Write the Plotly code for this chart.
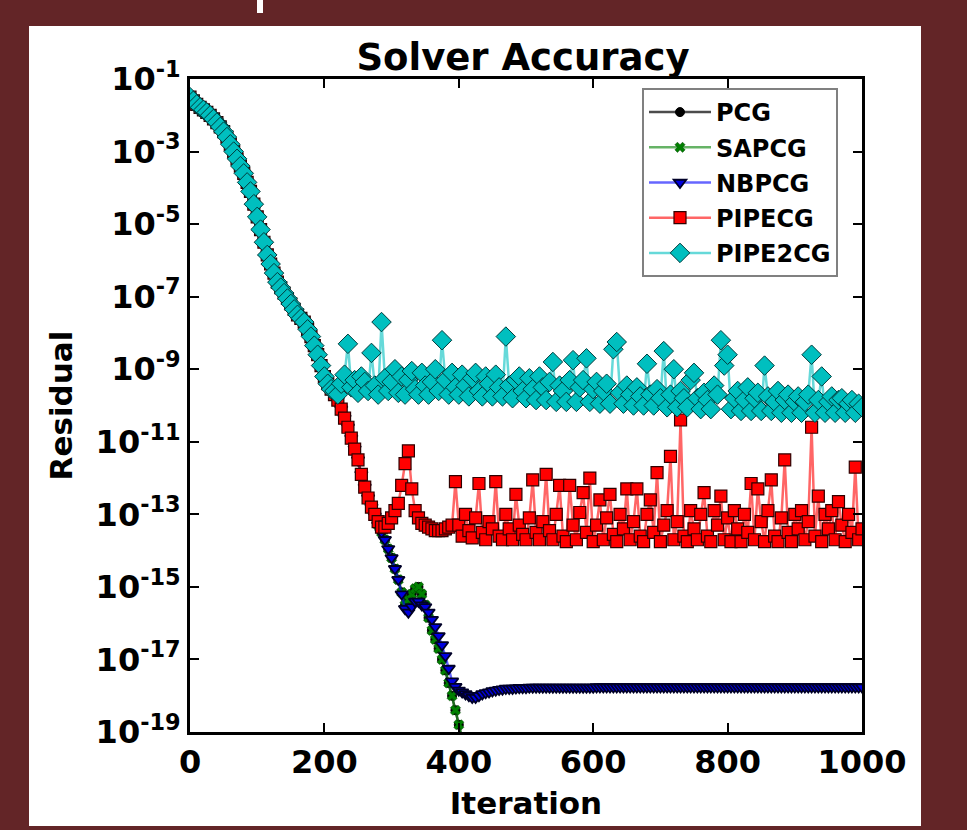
import plotly.graph_objects as go

# ---------------- data (log10 of residual) ----------------
# shared initial descent, iterations 0..200 every 5
head_iters = list(range(0, 201, 5))
descent_log10 = [-1.5, -1.6, -1.7, -1.78, -1.85, -1.92, -2.0, -2.1, -2.2, -2.32,
                 -2.45, -2.6, -2.8, -3.0, -3.2, -3.4, -3.6, -3.85, -4.1, -4.45,
                 -4.8, -5.15, -5.5, -5.85, -6.1, -6.35, -6.6, -6.75, -6.9, -7.05,
                 -7.2, -7.35, -7.5, -7.6, -7.7, -7.9, -8.1, -8.35, -8.6, -8.9, -9.2]

# PIPE2CG, PIPECG, NBPCG: iterations 205..1000 every 5
fine_tail_iters = list(range(205, 1001, 5))
pipe2cg_tail_log10 = [
    -9.4, -9.55, -9.6, -9.7, -9.4, -9.15, -8.3, -9.5, -9.3, -9.65,
    -9.2, -9.35, -9.6, -8.55, -9.45, -9.7, -7.7, -9.25, -9.6, -9.35,
    -9.0, -9.65, -9.2, -9.7, -9.3, -9.05, -9.55, -9.7, -9.1, -9.45,
    -9.7, -9.35, -9.0, -9.6, -8.2, -9.3, -9.7, -9.1, -9.5, -9.7,
    -9.15, -9.45, -9.75, -9.25, -9.1, -9.6, -9.75, -9.2, -9.4, -9.75,
    -9.15, -9.5, -9.75, -8.1, -9.45, -9.8, -9.3, -9.2, -9.6, -9.8,
    -9.25, -9.55, -9.85, -9.2, -9.5, -9.85, -9.35, -8.8, -9.9, -9.45,
    -9.6, -9.9, -9.3, -8.75, -9.9, -9.5, -9.3, -8.7, -9.9, -9.55,
    -9.35, -9.95, -9.6, -9.4, -9.95, -8.45, -8.25, -9.65, -9.95, -9.45,
    -9.7, -10.0, -9.5, -9.75, -10.0, -8.85, -9.7, -10.0, -9.55, -9.8,
    -8.5, -10.05, -9.7, -9.0, -10.05, -9.6, -9.8, -10.05, -9.3, -9.1,
    -9.8, -10.1, -9.65, -9.85, -10.1, -9.45, -9.7, -8.2, -8.9, -8.6,
    -10.1, -9.8, -9.6, -10.15, -9.85, -9.5, -10.15, -9.8, -9.65, -10.15,
    -8.9, -9.75, -10.15, -9.9, -9.6, -10.2, -9.85, -9.7, -10.2, -9.9,
    -9.75, -10.2, -9.9, -9.7, -8.6, -10.2, -9.85, -9.2, -10.2, -9.9,
    -9.75, -10.2, -9.85, -9.8, -10.2, -9.95, -9.85, -10.2, -9.95, -10.05]

pipecg_tail_log10 = [
    -9.4, -9.55, -9.7, -9.85, -10.1, -10.35, -10.6, -10.9, -11.2, -11.5,
    -11.9, -12.25, -12.55, -12.8, -13.0, -13.2, -13.35, -13.35, -13.25, -13.1,
    -12.9, -12.7, -12.2, -11.6, -11.25, -12.3, -12.9, -13.1, -13.25, -13.3,
    -13.35, -13.4, -13.45, -13.45, -13.45, -13.4, -13.35, -13.3, -12.1, -13.3,
    -13.6, -13.0, -13.45, -13.65, -13.1, -12.15, -13.5, -13.7, -13.2, -13.4,
    -12.1, -13.6, -13.7, -13.0, -13.4, -13.7, -12.45, -13.3, -13.55, -13.7,
    -13.1, -12.05, -13.5, -13.7, -13.2, -11.9, -13.45, -13.7, -13.0, -12.2,
    -13.6, -13.75, -12.2, -13.3, -13.7, -12.95, -12.4, -13.5, -12.0, -13.75,
    -13.3, -12.6, -13.7, -13.1, -12.45, -13.55, -13.75, -13.0, -13.4, -12.3,
    -13.7, -13.2, -12.3, -13.6, -13.75, -13.0, -12.6, -13.5, -11.85, -13.75,
    -13.3, -12.9, -11.4, -13.7, -13.2, -10.4, -13.6, -13.75, -12.9, -13.4,
    -13.7, -13.0, -12.4, -13.6, -13.75, -12.9, -13.3, -12.5, -13.7, -13.1,
    -13.75, -12.9, -13.4, -13.75, -13.0, -13.5, -12.15, -13.7, -12.3, -13.2,
    -13.75, -12.9, -12.05, -13.6, -13.75, -13.1, -11.5, -13.5, -13.75, -13.0,
    -13.4, -12.9, -13.7, -13.2, -10.6, -13.6, -12.5, -13.75, -13.0, -13.4,
    -12.9, -13.7, -12.65, -13.3, -13.75, -13.0, -13.5, -11.7, -13.7, -13.4]

nbpcg_tail_log10 = [
    -9.4, -9.55, -9.7, -9.85, -10.1, -10.35, -10.6, -10.9, -11.2, -11.5,
    -11.9, -12.25, -12.55, -12.8, -13.05, -13.3, -13.5, -13.7, -13.95, -14.2,
    -14.5, -14.8, -15.2, -15.6, -15.7, -15.55, -15.4, -15.4, -15.5, -15.55,
    -15.7, -15.9, -16.1, -16.35, -16.6, -16.9, -17.25, -17.6, -17.75, -17.85,
    -17.9, -17.95, -18.0, -18.05, -18.05, -18.0, -17.95, -17.92, -17.9, -17.87,
    -17.85, -17.83, -17.82, -17.8, -17.8, -17.8, -17.79, -17.78, -17.78, -17.78,
    -17.77, -17.77, -17.77, -17.77, -17.77, -17.77, -17.77, -17.77, -17.77, -17.77,
    -17.77, -17.77, -17.77, -17.77, -17.77, -17.77, -17.77, -17.77, -17.77, -17.77,
    -17.76, -17.76, -17.76, -17.76, -17.76, -17.76, -17.76, -17.76, -17.76, -17.76,
    -17.76, -17.76, -17.76, -17.76, -17.76, -17.76, -17.76, -17.76, -17.76, -17.76,
    -17.76, -17.76, -17.76, -17.76, -17.76, -17.76, -17.76, -17.76, -17.76, -17.76,
    -17.76, -17.76, -17.76, -17.76, -17.76, -17.76, -17.76, -17.76, -17.76, -17.76,
    -17.76, -17.76, -17.76, -17.76, -17.76, -17.76, -17.76, -17.76, -17.76, -17.76,
    -17.76, -17.76, -17.76, -17.76, -17.76, -17.76, -17.76, -17.76, -17.76, -17.76,
    -17.76, -17.76, -17.76, -17.76, -17.76, -17.76, -17.76, -17.76, -17.76, -17.76,
    -17.76, -17.76, -17.76, -17.76, -17.76, -17.76, -17.76, -17.76, -17.76, -17.76]

# SAPCG / PCG: iterations 205..410 every 5 (converge below the axis)
sapcg_tail_iters = list(range(205, 411, 5))
sapcg_tail_log10 = [
    -9.4, -9.55, -9.7, -9.85, -10.1, -10.35, -10.6, -10.9, -11.2, -11.5,
    -11.9, -12.25, -12.55, -12.8, -13.05, -13.3, -13.5, -13.7, -13.95, -14.2,
    -14.5, -14.8, -15.15, -15.5, -15.35, -15.2, -15.05, -15.0, -15.2, -15.5,
    -15.85, -16.2, -16.45, -16.7, -17.0, -17.3, -17.65, -18.0, -18.4, -18.8,
    -19.2, -19.6]
pcg_tail_iters = list(sapcg_tail_iters)
pcg_tail_log10 = list(sapcg_tail_log10)

series_names = ["PCG", "SAPCG", "NBPCG", "PIPECG", "PIPE2CG"]
series_x = [head_iters + pcg_tail_iters,
            head_iters + sapcg_tail_iters,
            head_iters + fine_tail_iters,
            head_iters + fine_tail_iters,
            head_iters + fine_tail_iters]
series_log10 = [descent_log10 + pcg_tail_log10,
                descent_log10 + sapcg_tail_log10,
                descent_log10 + nbpcg_tail_log10,
                descent_log10 + pipecg_tail_log10,
                descent_log10 + pipe2cg_tail_log10]

x_ticks = [0, 200, 400, 600, 800, 1000]
y_tick_exponents = [-1, -3, -5, -7, -9, -11, -13, -15, -17, -19]
y_tick_labels = ["10<sup>%d</sup>" % e for e in y_tick_exponents]

# ---------------- styles ----------------
styles = {
    "PCG": dict(line="rgba(0,0,0,0.7)", marker=dict(symbol="circle", size=9, color="#000000",
                                                   line=dict(color="#000000", width=1))),
    "SAPCG": dict(line="rgba(0,128,0,0.6)", marker=dict(symbol="x", size=9, color="#008000",
                                                        line=dict(color="#004000", width=0.5))),
    "NBPCG": dict(line="rgba(0,0,255,0.6)", marker=dict(symbol="triangle-down", size=11, color="#0000E0",
                                                        line=dict(color="#000028", width=1.8))),
    "PIPECG": dict(line="rgba(255,0,0,0.6)", marker=dict(symbol="square", size=12, color="#FF0000",
                                                         line=dict(color="#300000", width=1.2))),
    "PIPE2CG": dict(line="rgba(0,191,191,0.6)", marker=dict(symbol="diamond", size=15, color="#00BFBF",
                                                            line=dict(color="#003b3b", width=1))),
}

FONT = "DejaVu Sans"
fig = go.Figure()
for name, xs, vals in zip(series_names, series_x, series_log10):
    ys = [10 ** v for v in vals]
    st = styles[name]
    fig.add_trace(go.Scatter(
        x=xs, y=ys, name=name, mode="lines+markers", legendgroup=name,
        line=dict(color=st["line"], width=2.5), marker=st["marker"],
    ))

# plot box: left 190, right 862, top 79, bottom 732 in a 967x830 page
L, R, T, B = 190, 105, 79, 98
pw, ph = 967 - L - R, 830 - T - B

def px(x):
    return (x - L) / pw

def py(y):
    return (830 - B - y) / ph

fig.add_shape(type="rect", xref="paper", yref="paper", layer="below",
              x0=px(29), x1=px(921), y0=py(826), y1=py(26),
              fillcolor="white", line=dict(width=0))
fig.add_shape(type="rect", xref="paper", yref="paper", layer="below",
              x0=px(257), x1=px(263), y0=py(13), y1=py(-2),
              fillcolor="white", line=dict(width=0))

axis_common = dict(showline=True, linecolor="black", linewidth=3, mirror="ticks",
                   ticks="inside", ticklen=9, tickwidth=2, tickcolor="black",
                   showgrid=False, zeroline=False,
                   tickfont=dict(family=FONT, size=32, color="black", weight="bold"))

fig.update_layout(
    width=967, height=830,
    margin=dict(l=L, r=R, t=T, b=B),
    paper_bgcolor="#632527", plot_bgcolor="white",
    title=dict(text="Solver Accuracy", x=523 / 967, xanchor="center",
               y=1 - 57 / 830, yanchor="middle", yref="container",
               font=dict(family=FONT, size=37, color="black", weight="bold")),
    xaxis=dict(range=[0, 1000], tickvals=x_ticks, ticktext=[str(v) for v in x_ticks],
               title=dict(text="Iteration", standoff=12,
                          font=dict(family=FONT, size=31, color="black", weight="bold")),
               **axis_common),
    yaxis=dict(type="log", range=[-19, -1], tickvals=[10.0 ** e for e in y_tick_exponents],
               ticktext=y_tick_labels,
               title=dict(text="Residual", standoff=14,
                          font=dict(family=FONT, size=31, color="black", weight="bold")),
               **axis_common),
    legend=dict(x=px(642), y=py(88), xanchor="left", yanchor="top",
                bgcolor="white", bordercolor="#808080", borderwidth=2,
                font=dict(family=FONT, size=24, color="black", weight="bold"),
                itemwidth=62, tracegroupgap=1),
    showlegend=True,
)

fig.write_html("out.html")
